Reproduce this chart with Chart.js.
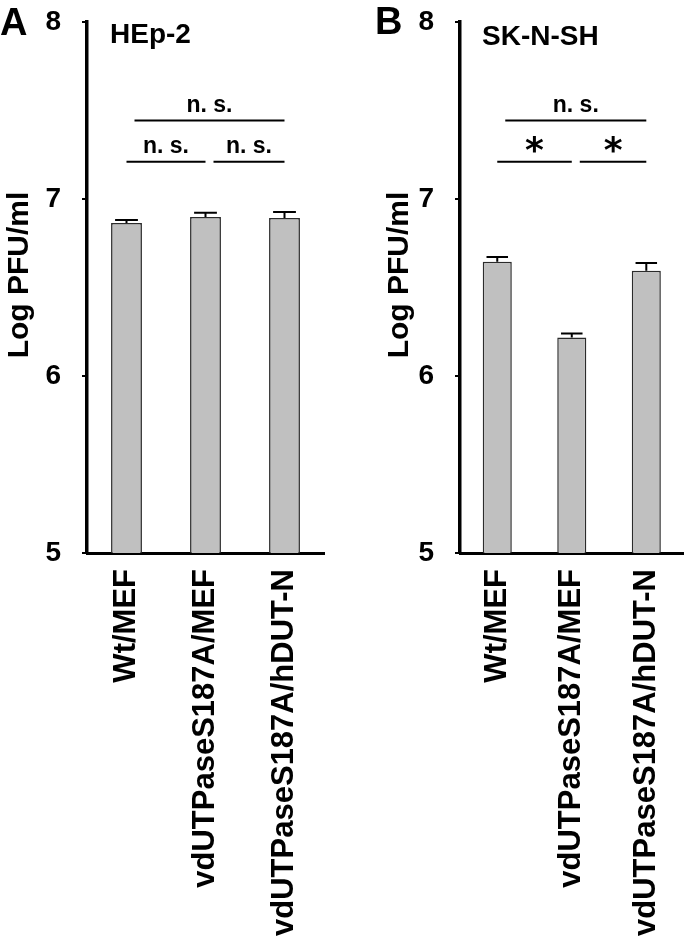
<!DOCTYPE html>
<html>
<head>
<title>Log PFU/ml - HEp-2 and SK-N-SH</title>
<script src="https://cdn.jsdelivr.net/npm/chart.js"></script>
<style>
  body { margin: 0; background: #fff; }
  #wrap { display: flex; width: 700px; height: 939px; }
  canvas { display: block; }
</style>
</head>
<body>
<div id="wrap">
  <canvas id="chartA" width="350" height="939"></canvas>
  <canvas id="chartB" width="350" height="939"></canvas>
</div>
<script>
// values
const categories = ['Wt/MEF', 'vdUTPaseS187A/MEF', 'vdUTPaseS187A/hDUT-N'];
const yTicks = [5, 6, 7, 8];

const hepValues = [6.865, 6.899, 6.893];
const hepErrors = [0.017, 0.023, 0.034];

const sknValues = [6.645, 6.217, 6.594];
const sknErrors = [0.028, 0.023, 0.045];

// significance brackets: compared bars, level on the y scale, label
const hepMarks = [
  { from: 0, to: 2, level: 7.443, text: 'n. s.' },
  { from: 0, to: 1, level: 7.211, text: 'n. s.' },
  { from: 1, to: 2, level: 7.211, text: 'n. s.' }
];
const sknMarks = [
  { from: 0, to: 2, level: 7.443, text: 'n. s.' },
  { from: 0, to: 1, level: 7.211, text: '*' },
  { from: 1, to: 2, level: 7.211, text: '*' }
];

const FONT = '"Liberation Sans", Arial, Helvetica, sans-serif';
Chart.defaults.font.family = FONT;
Chart.defaults.color = '#000';

const overlay = {
  id: 'overlay',
  afterDatasetsDraw(chart, args, opts) {
    const ctx = chart.ctx;
    const xs = chart.scales.x, ys = chart.scales.y;
    const meta = chart.getDatasetMeta(0);
    const values = chart.data.datasets[0].data;
    ctx.save();
    ctx.strokeStyle = '#000';
    ctx.fillStyle = '#000';
    ctx.lineWidth = 2;

    // error bars (upper half only)
    opts.errors.forEach((e, i) => {
      const bar = meta.data[i];
      const top = ys.getPixelForValue(values[i] + e);
      const half = bar.width * 0.37;
      ctx.beginPath();
      ctx.moveTo(bar.x, bar.y);
      ctx.lineTo(bar.x, top);
      ctx.moveTo(bar.x - half, top);
      ctx.lineTo(bar.x + half, top);
      ctx.stroke();
    });

    // brackets
    opts.marks.forEach(m => {
      const lift = (m.from > 0 || m.to - m.from > 1) ? 8 : 0;
      const x0 = xs.getPixelForValue(m.from) + lift;
      const x1 = xs.getPixelForValue(m.to);
      const yy = ys.getPixelForValue(m.level);
      ctx.beginPath();
      ctx.moveTo(x0, yy);
      ctx.lineTo(x1, yy);
      ctx.stroke();
      ctx.textAlign = 'center';
      ctx.textBaseline = 'alphabetic';
      if (m.text === '*') {
        ctx.font = 'bold 36px "DejaVu Sans"';
        ctx.fillText(m.text, (x0 + x1) / 2, yy);
      } else {
        ctx.font = 'bold 23px ' + FONT;
        ctx.fillText(m.text, (x0 + x1) / 2, yy - 9);
      }
    });

    // panel letter and cell line
    ctx.textAlign = 'left';
    ctx.textBaseline = 'alphabetic';
    ctx.font = 'bold 38px ' + FONT;
    ctx.fillText(opts.letter, opts.letterAt[0], opts.letterAt[1]);
    ctx.font = 'bold 28px ' + FONT;
    ctx.fillText(opts.name, opts.nameAt[0], opts.nameAt[1]);
    ctx.restore();
  }
};

function makeChart(id, values, errors, marks, letter, name, pad, yWidth, letterAt, nameAt) {
  return new Chart(document.getElementById(id), {
    type: 'bar',
    data: {
      labels: categories,
      datasets: [{
        data: values,
        backgroundColor: '#c0c0c0',
        borderColor: '#2b2b2b',
        borderWidth: 1.5,
        barPercentage: 0.39,
        categoryPercentage: 1
      }]
    },
    options: {
      responsive: false,
      animation: false,
      layout: { padding: pad },
      plugins: {
        legend: { display: false },
        tooltip: { enabled: false },
        overlay: { errors, marks, letter, name, letterAt, nameAt }
      },
      scales: {
        x: {
          grid: { display: false, drawTicks: false },
          border: { color: '#000', width: 3 },
          ticks: {
            minRotation: 90, maxRotation: 90, autoSkip: false, padding: 16,
            font: { size: 31, weight: 'bold' }, color: '#000'
          },
          afterFit: s => { s.height = 939 - 553; }
        },
        y: {
          min: 5, max: 8,
          afterBuildTicks: s => { s.ticks = yTicks.map(v => ({ value: v })); },
          ticks: { padding: 21, font: { size: 28, weight: 'bold' }, color: '#000' },
          grid: { drawOnChartArea: false, color: '#000', lineWidth: 2, tickLength: 5 },
          border: { color: '#000', width: 3.5 },
          title: {
            display: true, text: '   Log PFU/ml', color: '#000',
            font: { size: 30, weight: 'bold' }, padding: { top: 0, bottom: 0 }
          },
          afterFit: s => {
            s.width = yWidth;
            s.paddingTop = 0;
            s.paddingBottom = 0;
          }
        }
      }
    },
    plugins: [overlay]
  });
}

makeChart('chartA', hepValues, hepErrors, hepMarks, 'A', 'HEp-2',
  { left: 2, right: 26, top: 22, bottom: 0 }, 85, [0, 35], [110, 43]);
makeChart('chartB', sknValues, sknErrors, sknMarks, 'B', 'SK-N-SH',
  { left: 32, right: 3, top: 22, bottom: 0 }, 78, [25, 34], [132, 45]);
</script>
</body>
</html>
